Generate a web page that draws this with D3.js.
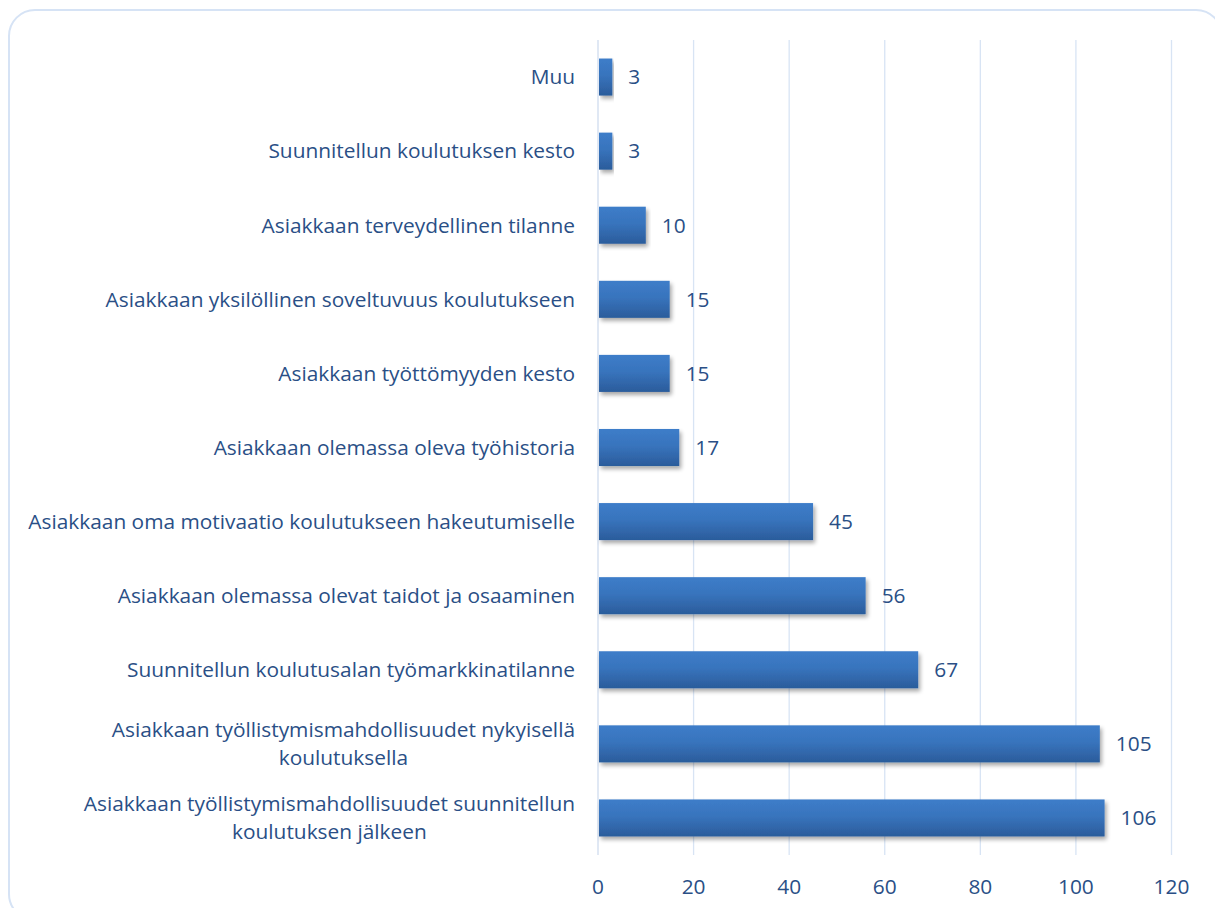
<!DOCTYPE html>
<html><head><meta charset="utf-8">
<script src="https://cdn.jsdelivr.net/npm/d3@7"></script>
<style>body{margin:0;background:#fff;} svg{display:block;}</style>
</head><body>
<svg id="c" width="1215" height="908"></svg>
<script>
const categories = [
  ["Muu"],
  ["Suunnitellun koulutuksen kesto"],
  ["Asiakkaan terveydellinen tilanne"],
  ["Asiakkaan yksilöllinen soveltuvuus koulutukseen"],
  ["Asiakkaan työttömyyden kesto"],
  ["Asiakkaan olemassa oleva työhistoria"],
  ["Asiakkaan oma motivaatio koulutukseen hakeutumiselle"],
  ["Asiakkaan olemassa olevat taidot ja osaaminen"],
  ["Suunnitellun koulutusalan työmarkkinatilanne"],
  ["Asiakkaan työllistymismahdollisuudet nykyisellä", "koulutuksella"],
  ["Asiakkaan työllistymismahdollisuudet suunnitellun", "koulutuksen jälkeen"]
];
const values = [3, 3, 10, 15, 15, 17, 45, 56, 67, 105, 106];
const xTicks = [0, 20, 40, 60, 80, 100, 120];

const svg = d3.select("#c");
const textColor = "#2a4f86";
const font = "'Open Sans', sans-serif";

// border
svg.append("rect").attr("x", 9).attr("y", 10).attr("width", 1213).attr("height", 910)
  .attr("rx", 26).attr("fill", "#fff").attr("stroke", "#d6e3f5").attr("stroke-width", 2);

// measure font size so the longest label fits the reference width
const probe = svg.append("text").attr("font-family", font).attr("font-size", 20)
  .text("Asiakkaan oma motivaatio koulutukseen hakeutumiselle");
const fs = 20 * 547 / probe.node().getComputedTextLength();
probe.remove();

const defs = svg.append("defs");
const g1 = defs.append("linearGradient").attr("id", "bg").attr("x1", 0).attr("y1", 0).attr("x2", 0).attr("y2", 1);
g1.append("stop").attr("offset", "0%").attr("stop-color", "#3d7dc9");
g1.append("stop").attr("offset", "45%").attr("stop-color", "#3874bd");
g1.append("stop").attr("offset", "100%").attr("stop-color", "#2b5c9b");
const f = defs.append("filter").attr("id", "sh").attr("x", "-5%").attr("y", "-20%").attr("width", "115%").attr("height", "160%");
f.append("feGaussianBlur").attr("in", "SourceAlpha").attr("stdDeviation", 2);
f.append("feOffset").attr("dx", 2).attr("dy", 3).attr("result", "ob");
f.append("feComponentTransfer").append("feFuncA").attr("type", "linear").attr("slope", 0.35);
const m = f.append("feMerge"); m.append("feMergeNode"); m.append("feMergeNode").attr("in", "SourceGraphic");

const x = d3.scaleLinear().domain([0, 120]).range([598, 1171.5]);
const y = d3.scaleBand().domain(d3.range(categories.length)).range([40, 855]).paddingInner(0.5).paddingOuter(0.25);

// gridlines
svg.append("g").selectAll("line").data(xTicks).join("line")
  .attr("x1", d => x(d)).attr("x2", d => x(d)).attr("y1", 40).attr("y2", 855)
  .attr("stroke", d => d === 0 ? "#cfdcef" : "#d8e4f4").attr("stroke-width", 1.3);

// x tick labels
svg.append("g").selectAll("text").data(xTicks).join("text")
  .attr("x", d => x(d)).attr("y", 887).attr("dy", "0.35em").attr("text-anchor", "middle")
  .attr("fill", textColor).attr("font-family", font).attr("font-size", fs).text(d => d);

// bars
svg.append("g").selectAll("rect").data(values).join("rect")
  .attr("x", x(0) + 1).attr("y", (d, i) => y(i)).attr("height", y.bandwidth())
  .attr("width", d => x(d) - x(0) - 1).attr("fill", "url(#bg)").attr("filter", "url(#sh)");

// value labels
svg.append("g").selectAll("text").data(values).join("text")
  .attr("x", d => x(d) + 16).attr("y", (d, i) => y(i) + y.bandwidth() / 2).attr("dy", "0.35em")
  .attr("fill", textColor).attr("font-family", font).attr("font-size", fs).text(d => d);

// category labels
const lab = svg.append("g");
categories.forEach((lines, i) => {
  const cy = y(i) + y.bandwidth() / 2;
  const lh = 28;
  const t0 = lab.append("text").attr("x", 575).attr("y", cy - (lines.length - 1) * lh / 2).attr("dy", "0.35em")
    .attr("text-anchor", "end").attr("fill", textColor).attr("font-family", font).attr("font-size", fs).text(lines[0]);
  if (lines.length > 1) {
    const w = t0.node().getComputedTextLength();
    lab.append("text").attr("x", 575 - w / 2).attr("y", cy + lh / 2).attr("dy", "0.35em")
      .attr("text-anchor", "middle").attr("fill", textColor).attr("font-family", font).attr("font-size", fs).text(lines[1]);
  }
});
</script>
</body></html>
